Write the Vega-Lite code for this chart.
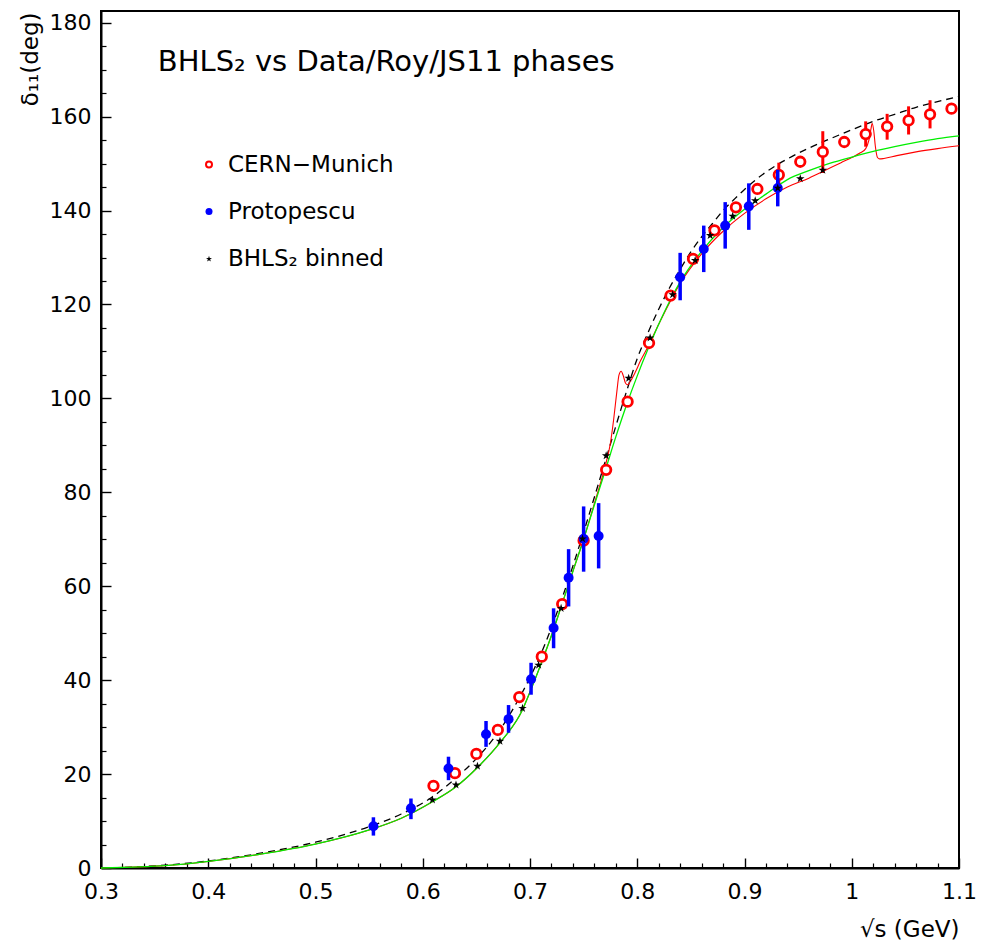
{
  "$schema": "https://vega.github.io/schema/vega-lite/v6.json",
  "width": 858,
  "height": 857,
  "autosize": {"type": "none"},
  "padding": {"left": 101, "top": 11, "right": 30, "bottom": 72},
  "background": "white",
  "config": {
    "view": {"stroke": "black", "strokeWidth": 2},
    "axis": {
      "domainColor": "black", "domainWidth": 2,
      "grid": false, "labelFont": "DejaVu Sans", "labelFontSize": 22, "labelColor": "black",
      "titleFont": "DejaVu Sans", "titleFontSize": 23, "titleFontWeight": "normal", "titleColor": "black",
      "labelOverlap": false, "labelFlush": false
    }
  },
  "datasets": {
    "curves": [
      {"series": "Roy", "x": 0.30, "y": 0}, {"series": "Roy", "x": 0.33, "y": 0.2}, {"series": "Roy", "x": 0.36, "y": 0.6}, {"series": "Roy", "x": 0.40, "y": 1.5}, {"series": "Roy", "x": 0.45, "y": 3.2}, {"series": "Roy", "x": 0.50, "y": 5.5}, {"series": "Roy", "x": 0.55, "y": 8.8}, {"series": "Roy", "x": 0.58, "y": 11.5}, {"series": "Roy", "x": 0.61, "y": 15.3}, {"series": "Roy", "x": 0.63, "y": 19.0}, {"series": "Roy", "x": 0.65, "y": 23.3}, {"series": "Roy", "x": 0.67, "y": 28.8}, {"series": "Roy", "x": 0.69, "y": 36.2}, {"series": "Roy", "x": 0.71, "y": 45.5}, {"series": "Roy", "x": 0.73, "y": 57.5}, {"series": "Roy", "x": 0.75, "y": 71.5}, {"series": "Roy", "x": 0.77, "y": 86.5}, {"series": "Roy", "x": 0.79, "y": 101.5}, {"series": "Roy", "x": 0.80, "y": 108.5}, {"series": "Roy", "x": 0.81, "y": 114.0}, {"series": "Roy", "x": 0.82, "y": 119.0}, {"series": "Roy", "x": 0.83, "y": 123.5}, {"series": "Roy", "x": 0.84, "y": 127.5}, {"series": "Roy", "x": 0.85, "y": 131.2}, {"series": "Roy", "x": 0.86, "y": 134.4}, {"series": "Roy", "x": 0.87, "y": 137.2}, {"series": "Roy", "x": 0.88, "y": 140.0}, {"series": "Roy", "x": 0.89, "y": 142.3}, {"series": "Roy", "x": 0.90, "y": 144.5}, {"series": "Roy", "x": 0.92, "y": 148.2}, {"series": "Roy", "x": 0.94, "y": 151.0}, {"series": "Roy", "x": 0.96, "y": 153.3}, {"series": "Roy", "x": 0.98, "y": 155.3}, {"series": "Roy", "x": 1.00, "y": 157.2}, {"series": "Roy", "x": 1.02, "y": 159.0}, {"series": "Roy", "x": 1.04, "y": 160.5}, {"series": "Roy", "x": 1.06, "y": 162.0}, {"series": "Roy", "x": 1.08, "y": 163.2}, {"series": "Roy", "x": 1.10, "y": 164.3},

      {"series": "Green", "x": 0.30, "y": 0}, {"series": "Green", "x": 0.33, "y": 0.2}, {"series": "Green", "x": 0.36, "y": 0.5}, {"series": "Green", "x": 0.40, "y": 1.4}, {"series": "Green", "x": 0.45, "y": 3.0}, {"series": "Green", "x": 0.50, "y": 5.1}, {"series": "Green", "x": 0.55, "y": 8.1}, {"series": "Green", "x": 0.58, "y": 10.6}, {"series": "Green", "x": 0.609, "y": 14.1}, {"series": "Green", "x": 0.631, "y": 17.3}, {"series": "Green", "x": 0.651, "y": 21.4}, {"series": "Green", "x": 0.672, "y": 26.7}, {"series": "Green", "x": 0.693, "y": 33.7}, {"series": "Green", "x": 0.70, "y": 37.5}, {"series": "Green", "x": 0.71, "y": 43.3}, {"series": "Green", "x": 0.72, "y": 49.5}, {"series": "Green", "x": 0.73, "y": 56.3}, {"series": "Green", "x": 0.74, "y": 63.2}, {"series": "Green", "x": 0.75, "y": 70.0}, {"series": "Green", "x": 0.76, "y": 77.3}, {"series": "Green", "x": 0.77, "y": 84.5}, {"series": "Green", "x": 0.78, "y": 91.8}, {"series": "Green", "x": 0.79, "y": 98.6}, {"series": "Green", "x": 0.80, "y": 104.8}, {"series": "Green", "x": 0.81, "y": 110.5}, {"series": "Green", "x": 0.82, "y": 115.8}, {"series": "Green", "x": 0.83, "y": 120.6}, {"series": "Green", "x": 0.84, "y": 124.8}, {"series": "Green", "x": 0.86, "y": 131.3}, {"series": "Green", "x": 0.88, "y": 136.4}, {"series": "Green", "x": 0.90, "y": 140.3}, {"series": "Green", "x": 0.92, "y": 143.5}, {"series": "Green", "x": 0.94, "y": 146.6}, {"series": "Green", "x": 0.96, "y": 148.5}, {"series": "Green", "x": 0.98, "y": 150.1}, {"series": "Green", "x": 1.00, "y": 151.4}, {"series": "Green", "x": 1.02, "y": 152.6}, {"series": "Green", "x": 1.04, "y": 153.6}, {"series": "Green", "x": 1.06, "y": 154.5}, {"series": "Green", "x": 1.08, "y": 155.3}, {"series": "Green", "x": 1.10, "y": 155.9},

      {"series": "Red", "x": 0.30, "y": 0}, {"series": "Red", "x": 0.33, "y": 0.2}, {"series": "Red", "x": 0.36, "y": 0.5}, {"series": "Red", "x": 0.40, "y": 1.4}, {"series": "Red", "x": 0.45, "y": 3.0}, {"series": "Red", "x": 0.50, "y": 5.1}, {"series": "Red", "x": 0.55, "y": 8.1}, {"series": "Red", "x": 0.58, "y": 10.6}, {"series": "Red", "x": 0.609, "y": 14.1}, {"series": "Red", "x": 0.631, "y": 17.3}, {"series": "Red", "x": 0.651, "y": 21.4}, {"series": "Red", "x": 0.672, "y": 26.7}, {"series": "Red", "x": 0.693, "y": 33.7}, {"series": "Red", "x": 0.70, "y": 37.5}, {"series": "Red", "x": 0.71, "y": 43.3}, {"series": "Red", "x": 0.72, "y": 49.5}, {"series": "Red", "x": 0.73, "y": 56.3}, {"series": "Red", "x": 0.74, "y": 63.2}, {"series": "Red", "x": 0.75, "y": 70.0}, {"series": "Red", "x": 0.76, "y": 77.6}, {"series": "Red", "x": 0.77, "y": 85.5}, {"series": "Red", "x": 0.775, "y": 90.5}, {"series": "Red", "x": 0.778, "y": 95.5}, {"series": "Red", "x": 0.781, "y": 101.5}, {"series": "Red", "x": 0.783, "y": 105.0}, {"series": "Red", "x": 0.785, "y": 105.8}, {"series": "Red", "x": 0.787, "y": 104.8}, {"series": "Red", "x": 0.789, "y": 103.3}, {"series": "Red", "x": 0.791, "y": 102.9}, {"series": "Red", "x": 0.794, "y": 103.8}, {"series": "Red", "x": 0.798, "y": 105.5}, {"series": "Red", "x": 0.803, "y": 108.0}, {"series": "Red", "x": 0.81, "y": 111.0}, {"series": "Red", "x": 0.82, "y": 115.8}, {"series": "Red", "x": 0.84, "y": 124.5}, {"series": "Red", "x": 0.86, "y": 130.8}, {"series": "Red", "x": 0.88, "y": 135.6}, {"series": "Red", "x": 0.90, "y": 139.4}, {"series": "Red", "x": 0.92, "y": 142.5}, {"series": "Red", "x": 0.94, "y": 145.0}, {"series": "Red", "x": 0.96, "y": 146.9}, {"series": "Red", "x": 0.973, "y": 148.3}, {"series": "Red", "x": 0.99, "y": 150.2}, {"series": "Red", "x": 1.00, "y": 151.3}, {"series": "Red", "x": 1.008, "y": 152.3}, {"series": "Red", "x": 1.013, "y": 153.2}, {"series": "Red", "x": 1.016, "y": 155.0}, {"series": "Red", "x": 1.018, "y": 157.5}, {"series": "Red", "x": 1.019, "y": 158.6}, {"series": "Red", "x": 1.0205, "y": 157.0}, {"series": "Red", "x": 1.022, "y": 153.7}, {"series": "Red", "x": 1.024, "y": 151.3}, {"series": "Red", "x": 1.026, "y": 151.0}, {"series": "Red", "x": 1.03, "y": 151.1}, {"series": "Red", "x": 1.042, "y": 151.7}, {"series": "Red", "x": 1.06, "y": 152.5}, {"series": "Red", "x": 1.08, "y": 153.2}, {"series": "Red", "x": 1.10, "y": 153.8}
    ],
    "cern": [
      {"x": 0.610, "y": 17.5, "lo": 16.5, "hi": 18.5}, {"x": 0.630, "y": 20.2, "lo": 19.2, "hi": 21.2}, {"x": 0.650, "y": 24.3, "lo": 23.3, "hi": 25.3}, {"x": 0.670, "y": 29.4, "lo": 28.4, "hi": 30.4}, {"x": 0.690, "y": 36.4, "lo": 35.4, "hi": 37.4}, {"x": 0.711, "y": 45.0, "lo": 44.0, "hi": 46.0}, {"x": 0.730, "y": 56.2, "lo": 55.2, "hi": 57.2}, {"x": 0.750, "y": 69.7, "lo": 68.7, "hi": 70.7}, {"x": 0.771, "y": 84.8, "lo": 83.8, "hi": 85.8}, {"x": 0.791, "y": 99.3, "lo": 98.3, "hi": 100.3}, {"x": 0.811, "y": 111.8, "lo": 110.8, "hi": 112.8}, {"x": 0.831, "y": 121.9, "lo": 120.9, "hi": 122.9}, {"x": 0.852, "y": 129.7, "lo": 128.7, "hi": 130.7}, {"x": 0.872, "y": 135.8, "lo": 134.8, "hi": 136.8}, {"x": 0.892, "y": 140.7, "lo": 139.7, "hi": 141.7}, {"x": 0.912, "y": 144.6, "lo": 143.6, "hi": 145.6}, {"x": 0.932, "y": 147.6, "lo": 145.0, "hi": 150.2}, {"x": 0.952, "y": 150.4, "lo": 149.4, "hi": 151.4}, {"x": 0.973, "y": 152.5, "lo": 148.0, "hi": 156.9}, {"x": 0.993, "y": 154.6, "lo": 153.6, "hi": 155.6}, {"x": 1.013, "y": 156.3, "lo": 153.6, "hi": 159.0}, {"x": 1.033, "y": 157.9, "lo": 155.1, "hi": 160.6}, {"x": 1.053, "y": 159.2, "lo": 156.2, "hi": 162.2}, {"x": 1.073, "y": 160.5, "lo": 157.5, "hi": 163.5}, {"x": 1.093, "y": 161.7, "lo": 160.7, "hi": 162.7}
    ],
    "proto": [
      {"x": 0.554, "y": 8.9, "lo": 6.9, "hi": 10.8}, {"x": 0.589, "y": 12.7, "lo": 10.4, "hi": 14.8}, {"x": 0.624, "y": 21.2, "lo": 18.7, "hi": 23.7}, {"x": 0.659, "y": 28.5, "lo": 25.8, "hi": 31.3}, {"x": 0.680, "y": 31.7, "lo": 28.8, "hi": 34.7}, {"x": 0.701, "y": 40.2, "lo": 36.9, "hi": 43.7}, {"x": 0.722, "y": 51.1, "lo": 46.8, "hi": 55.3}, {"x": 0.736, "y": 61.8, "lo": 55.7, "hi": 67.9}, {"x": 0.750, "y": 70.1, "lo": 63.1, "hi": 77.0}, {"x": 0.764, "y": 70.7, "lo": 63.8, "hi": 77.7}, {"x": 0.840, "y": 125.8, "lo": 120.9, "hi": 131.0}, {"x": 0.862, "y": 131.8, "lo": 126.9, "hi": 136.8}, {"x": 0.882, "y": 136.8, "lo": 131.9, "hi": 141.8}, {"x": 0.904, "y": 140.9, "lo": 135.9, "hi": 145.8}, {"x": 0.931, "y": 144.8, "lo": 140.9, "hi": 148.7}
    ],
    "bhls": [
      {"x": 0.609, "y": 14.5}, {"x": 0.631, "y": 17.7}, {"x": 0.651, "y": 21.7}, {"x": 0.672, "y": 27.0}, {"x": 0.693, "y": 34.0}, {"x": 0.708, "y": 43.2}, {"x": 0.729, "y": 55.3}, {"x": 0.749, "y": 70.1}, {"x": 0.771, "y": 87.8}, {"x": 0.792, "y": 104.3}, {"x": 0.812, "y": 112.9}, {"x": 0.833, "y": 122.1}, {"x": 0.854, "y": 129.4}, {"x": 0.868, "y": 134.7}, {"x": 0.889, "y": 138.8}, {"x": 0.910, "y": 142.1}, {"x": 0.931, "y": 144.8}, {"x": 0.952, "y": 146.8}, {"x": 0.973, "y": 148.6}
    ],
    "legend": [
      {"x": 0.4007, "y": 149.8, "series": "cern", "label": "CERN−Munich"},
      {"x": 0.4007, "y": 139.8, "series": "proto", "label": "Protopescu"},
      {"x": 0.4007, "y": 129.7, "series": "bhls", "label": "BHLS₂ binned"}
    ],
    "title": [
      {"x": 0.353, "y": 171.7, "text": "BHLS₂ vs Data/Roy/JS11 phases"}
    ]
  },
  "layer": [
    {
      "encoding": {
        "x": {
          "field": "x", "type": "quantitative",
          "scale": {"domain": [0.3, 1.1], "nice": false, "zero": false},
          "axis": {
            "orient": "bottom", "title": "√s (GeV)",
            "values": [0.3, 0.4, 0.5, 0.6, 0.7, 0.8, 0.9, 1.0, 1.1],
            "format": "~g", "ticks": true, "tickSize": -10, "tickColor": "black", "tickWidth": 1.4, "labelPadding": 23,
            "titleAnchor": "end", "titleAlign": "right", "titleBaseline": "middle", "titleX": 858, "titleY": 61
          }
        },
        "y": {
          "field": "y", "type": "quantitative",
          "scale": {"domain": [0, 182.5], "nice": false, "zero": true},
          "axis": {
            "orient": "left", "title": "δ₁₁(deg)",
            "values": [0, 20, 40, 60, 80, 100, 120, 140, 160, 180],
            "ticks": true, "tickSize": -10, "tickColor": "black", "tickWidth": 1.4, "labelPadding": 20,
            "titleAngle": 270, "titleAlign": "right", "titleBaseline": "middle", "titleX": -71, "titleY": 1
          }
        }
      },
      "layer": [
        {
          "data": {"name": "curves"},
          "transform": [{"filter": "datum.series == 'Roy'"}],
          "mark": {"type": "line", "color": "black", "strokeWidth": 1.3, "strokeDash": [7, 5], "interpolate": "monotone"}
        },
        {
          "data": {"name": "curves"},
          "transform": [{"filter": "datum.series == 'Red'"}],
          "mark": {"type": "line", "color": "#ff0000", "strokeWidth": 1.1, "interpolate": "monotone"}
        },
        {
          "data": {"name": "curves"},
          "transform": [{"filter": "datum.series == 'Green'"}],
          "mark": {"type": "line", "color": "#00ee00", "strokeWidth": 1.3, "interpolate": "monotone"}
        },
        {
          "data": {"name": "cern"},
          "mark": {"type": "rule", "color": "#ff0000", "strokeWidth": 3},
          "encoding": {"y": {"field": "lo", "type": "quantitative"}, "y2": {"field": "hi"}}
        },
        {
          "data": {"name": "cern"},
          "mark": {"type": "point", "shape": "circle", "filled": false, "color": "#ff0000", "strokeWidth": 2.8, "size": 90, "opacity": 1, "fill": "white", "fillOpacity": 1}
        },
        {
          "data": {"name": "proto"},
          "mark": {"type": "rule", "color": "#0000ff", "strokeWidth": 3.5},
          "encoding": {"y": {"field": "lo", "type": "quantitative"}, "y2": {"field": "hi"}}
        },
        {
          "data": {"name": "proto"},
          "mark": {"type": "point", "shape": "circle", "filled": true, "color": "#0000ff", "size": 100, "opacity": 1}
        },
        {
          "data": {"name": "bhls"},
          "mark": {"type": "point", "shape": "M0,-1L0.2245,-0.309L0.951,-0.309L0.363,0.118L0.588,0.809L0,0.382L-0.588,0.809L-0.363,0.118L-0.951,-0.309L-0.2245,-0.309Z", "filled": true, "color": "black", "size": 80, "opacity": 1}
        },
        {
          "data": {"name": "legend"},
          "transform": [{"filter": "datum.series == 'cern'"}],
          "mark": {"type": "point", "shape": "circle", "filled": false, "color": "#ff0000", "strokeWidth": 2, "size": 36, "opacity": 1}
        },
        {
          "data": {"name": "legend"},
          "transform": [{"filter": "datum.series == 'proto'"}],
          "mark": {"type": "point", "shape": "circle", "filled": true, "color": "#0000ff", "size": 49, "opacity": 1}
        },
        {
          "data": {"name": "legend"},
          "transform": [{"filter": "datum.series == 'bhls'"}],
          "mark": {"type": "point", "shape": "M0,-1L0.2245,-0.309L0.951,-0.309L0.363,0.118L0.588,0.809L0,0.382L-0.588,0.809L-0.363,0.118L-0.951,-0.309L-0.2245,-0.309Z", "filled": true, "color": "black", "size": 40, "opacity": 1}
        },
        {
          "data": {"name": "legend"},
          "mark": {"type": "text", "align": "left", "baseline": "middle", "dx": 19, "font": "DejaVu Sans", "fontSize": 23, "color": "black"},
          "encoding": {"text": {"field": "label"}}
        },
        {
          "data": {"name": "title"},
          "mark": {"type": "text", "align": "left", "baseline": "middle", "font": "DejaVu Sans", "fontSize": 29, "color": "black"},
          "encoding": {"text": {"field": "text"}}
        }
      ]
    },
    {
      "data": {"name": "curves"},
      "mark": {"type": "point", "opacity": 0},
      "encoding": {
        "x": {
          "field": "x", "type": "quantitative",
          "scale": {"domain": [0.3, 1.1], "nice": false, "zero": false},
          "axis": {"orient": "bottom", "title": null, "labels": false, "domain": true, "domainOpacity": 0, "ticks": true, "offset": -5, "tickSize": 5, "tickColor": "black", "tickWidth": 1.2,
            "values": [0.32, 0.34, 0.36, 0.38, 0.42, 0.44, 0.46, 0.48, 0.52, 0.54, 0.56, 0.58, 0.62, 0.64, 0.66, 0.68, 0.72, 0.74, 0.76, 0.78, 0.82, 0.84, 0.86, 0.88, 0.92, 0.94, 0.96, 0.98, 1.02, 1.04, 1.06, 1.08]}
        },
        "y": {
          "field": "y", "type": "quantitative",
          "scale": {"domain": [0, 182.5], "nice": false, "zero": true},
          "axis": {"orient": "left", "title": null, "labels": false, "domain": true, "domainOpacity": 0, "ticks": true, "offset": -5, "tickSize": 5, "tickColor": "black", "tickWidth": 1.2,
            "values": [5, 10, 15, 25, 30, 35, 45, 50, 55, 65, 70, 75, 85, 90, 95, 105, 110, 115, 125, 130, 135, 145, 150, 155, 165, 170, 175]}
        }
      }
    }
  ],
  "resolve": {"axis": {"x": "independent", "y": "independent"}}
}
